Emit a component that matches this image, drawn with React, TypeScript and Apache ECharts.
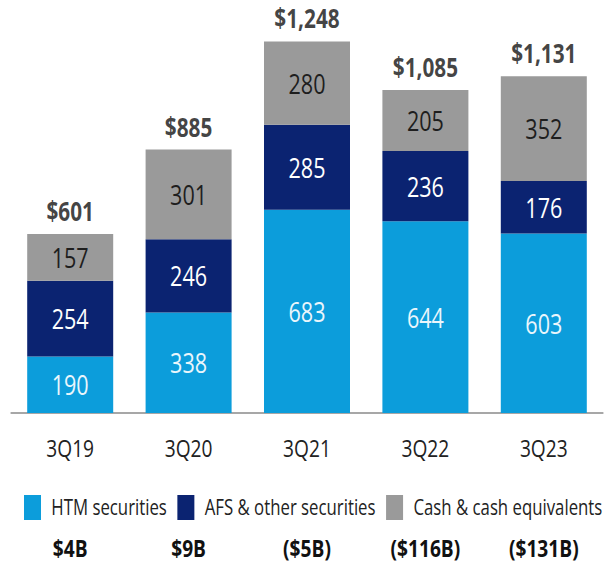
import React, { useEffect, useRef } from "react";
import * as echarts from "echarts";

const categories = ["3Q19", "3Q20", "3Q21", "3Q22", "3Q23"];
const htm = [190, 338, 683, 644, 603];
const afs = [254, 246, 285, 236, 176];
const cash = [157, 301, 280, 205, 352];
const totals = [601, 885, 1248, 1085, 1131];
const changeLabels = ["$4B", "$9B", "($5B)", "($116B)", "($131B)"];

const FONT = "'Open Sans', 'Noto Sans', sans-serif";
// the reference uses a condensed typeface; the whole chart is drawn wider and condensed horizontally
const W = 760;
const F = 607 / W;
const h = (px: number) => px / F;

export default function App() {
  const ref = useRef<HTMLDivElement>(null);
  useEffect(() => {
    if (!ref.current) return;
    const chart = echarts.init(ref.current, null, { renderer: "svg" });
    const insideLabel = (color: string) => ({
      show: true,
      position: "inside" as const,
      color,
      fontSize: 27,
      fontFamily: FONT,
    });
    chart.setOption({
      animation: false,
      backgroundColor: "#ffffff",
      textStyle: { fontFamily: FONT },
      grid: { left: h(11), right: h(4), top: 26, bottom: 153 },
      legend: {
        top: 490,
        left: h(20),
        width: 750,
        itemWidth: h(17),
        itemHeight: 25,
        itemGap: h(10.5),
        icon: "rect",
        data: ["HTM securities", "AFS & other securities", "Cash & cash equivalents"],
        textStyle: { fontSize: 21, color: "#222", fontFamily: FONT, padding: [0, 0, 0, 8] },
      },
      xAxis: [
        {
          type: "category",
          data: categories,
          position: "bottom",
          axisLine: { lineStyle: { color: "#8a8a8a", width: 1.5 } },
          axisTick: { show: false },
          axisLabel: { interval: 0, margin: 23, fontSize: 24, color: "#222", fontFamily: FONT },
        },
        {
          type: "category",
          data: changeLabels,
          position: "bottom",
          offset: 100,
          axisLine: { show: false },
          axisTick: { show: false },
          axisLabel: {
            interval: 0,
            margin: 23,
            fontSize: 24,
            fontWeight: "bold",
            color: "#111",
            fontFamily: FONT,
          },
        },
      ],
      yAxis: { type: "value", min: 0, max: 1300, show: false, splitLine: { show: false } },
      series: [
        {
          name: "HTM securities",
          type: "bar",
          stack: "total",
          barWidth: h(86),
          data: htm,
          itemStyle: { color: "#0c9ddb" },
          label: insideLabel("#eaf6fc"),
        },
        {
          name: "AFS & other securities",
          type: "bar",
          stack: "total",
          data: afs,
          itemStyle: { color: "#0b2371" },
          label: insideLabel("#ffffff"),
        },
        {
          name: "Cash & cash equivalents",
          type: "bar",
          stack: "total",
          data: cash,
          itemStyle: { color: "#9a9a9a" },
          label: insideLabel("#1e1e1e"),
        },
        {
          name: "Total",
          type: "scatter",
          data: totals,
          symbolSize: 0,
          silent: true,
          label: {
            show: true,
            position: "top",
            distance: 10,
            fontSize: 26,
            fontWeight: "bold",
            color: "#111",
            fontFamily: FONT,
            formatter: (p: any) => "$" + Number(p.value).toLocaleString("en-US"),
          },
        },
      ],
    });
    return () => chart.dispose();
  }, []);
  return (
    <div
      style={{
        position: "absolute",
        left: 0,
        top: 0,
        width: 607,
        height: 566,
        overflow: "hidden",
        background: "#fff",
      }}
    >
      <div
        ref={ref}
        style={{
          width: W,
          height: 566,
          transform: `scaleX(${F})`,
          transformOrigin: "0 0",
        }}
      />
    </div>
  );
}
